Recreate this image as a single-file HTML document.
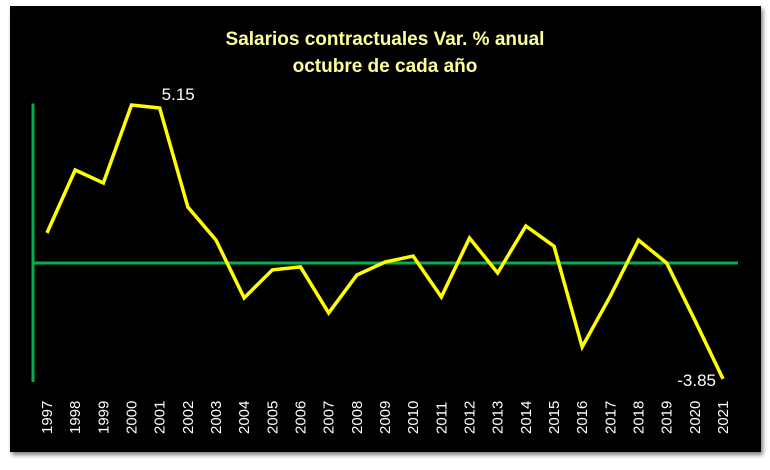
<!DOCTYPE html>
<html><head><meta charset="utf-8"><style>
body{margin:0;background:#fff;width:770px;height:470px;overflow:hidden}
svg{display:block}
</style></head><body>
<svg width="770" height="470">
<defs><filter id="sh" x="-5%" y="-5%" width="110%" height="110%"><feDropShadow dx="2" dy="3" stdDeviation="2" flood-color="#000" flood-opacity="0.5"/></filter></defs>
<rect x="10" y="6" width="751" height="446" fill="#050505" filter="url(#sh)"/>
<text x="385" y="45" text-anchor="middle" fill="#ffff99" font-family="Liberation Sans, sans-serif" font-weight="bold" font-size="19">Salarios contractuales Var. % anual</text>
<text x="385" y="72" text-anchor="middle" fill="#ffff99" font-family="Liberation Sans, sans-serif" font-weight="bold" font-size="19">octubre de cada año</text>
<g id="g"></g>
</svg>
<script>
const years=["1997","1998","1999","2000","2001","2002","2003","2004","2005","2006","2007","2008","2009","2010","2011","2012","2013","2014","2015","2016","2017","2018","2019","2020","2021"];
const values=[1.0,3.09,2.66,5.25,5.15,1.86,0.76,-1.16,-0.23,-0.13,-1.66,-0.4,0.03,0.23,-1.13,0.83,-0.33,1.23,0.56,-2.79,-1.1,0.76,0.0,-1.9,-3.85];
const labelIdx=[4,24];
const NS="http://www.w3.org/2000/svg";
const g=document.getElementById('g');
const x=i=>47+i*(676/24);
const y=v=>263-v*30.1;
function mk(t,a){const e=document.createElementNS(NS,t);for(const k in a)e.setAttribute(k,a[k]);g.appendChild(e);return e;}
const va=mk('line',{x1:33,y1:y(5.3),x2:33,y2:382,stroke:'#00b050','stroke-width':3});


const za=mk('line',{x1:33,y1:y(0),x2:738,y2:y(0),stroke:'#00b050','stroke-width':3});


const pl=mk('polyline',{points:values.map((v,i)=>x(i)+','+y(v)).join(' '),fill:'none',stroke:'#ffff00','stroke-width':3.5,'stroke-linejoin':'miter'});


years.forEach((yr,i)=>{
 const t=mk('text',{transform:`translate(${x(i)+5},434) rotate(-90)`,fill:'#fff','font-family':'Liberation Sans, sans-serif','font-size':15});
 t.textContent=yr;
 
 
});
labelIdx.forEach(i=>{
 const v=values[i];
 const t=mk('text',{x:v>0?x(i)+2:x(i)-7,y:v>0?y(v)-8:y(v)+7,'text-anchor':v>0?'start':'end',fill:'#fff','font-family':'Liberation Sans, sans-serif','font-size':17});
 t.textContent=v.toFixed(2);
 
 
});
</script>
</body></html>
